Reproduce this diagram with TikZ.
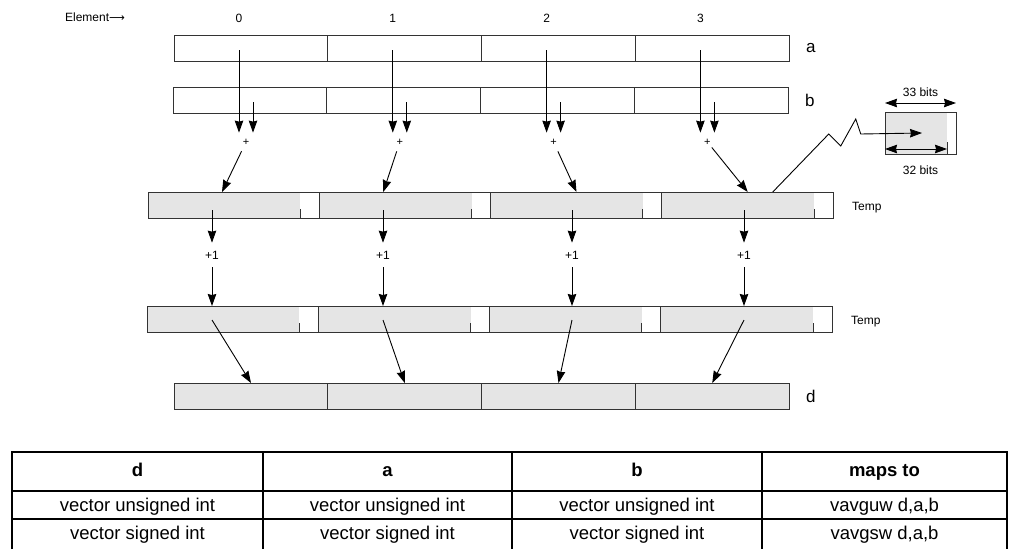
\documentclass[tikz,border=0pt]{standalone}
\usepackage{fontspec}
\setmainfont{Liberation Sans}
\newfontfamily\arrowfont{DejaVu Sans}
\usetikzlibrary{positioning, arrows.meta}

\begin{document}
\begin{tikzpicture}[x=1pt,y=-1pt]
		\tikzstyle{cell} = [draw=black!80, line width=1, inner sep=0, outer sep=0, minimum height=26, anchor=north west]
		\tikzstyle{vecbox} = [cell, minimum width=153.75]
		\tikzstyle{tempbox} = [cell, minimum width=171.25, path picture={\fill[black!10] (path picture bounding box.north west) rectangle ([xshift=-19pt]path picture bounding box.south east); \draw[line width=1] ([xshift=-19pt]path picture bounding box.south east) -- ++(0,9pt);}]
		\tikzstyle{bitbox} = [cell, minimum width=71, minimum height=42, path picture={\fill[black!10] (path picture bounding box.north west) rectangle ([xshift=-9pt]path picture bounding box.south east); \draw[line width=1] ([xshift=-9pt]path picture bounding box.south east) -- ++(0,12pt);}]
		\tikzstyle{arr} = [-{Stealth[length=12pt, width=8.5pt, inset=1pt]}, line width=0.9]
		\tikzstyle{dbl} = [{Stealth[length=12pt, width=8.5pt, inset=1pt]}-{Stealth[length=12pt, width=8.5pt, inset=1pt]}, line width=0.9]
		\tikzstyle{lbl} = [inner sep=1, font=\fontsize{12}{14}\selectfont]
		\tikzstyle{rowlbl} = [inner sep=1, font=\fontsize{17}{20}\selectfont]
		\tikzstyle{tbl} = [anchor=base, inner sep=0, font=\fontsize{18.5}{22}\selectfont]
		\tikzstyle{grid} = [line width=1.6]
		\useasboundingbox (0,0) rectangle (1009,549);
		
		\node [lbl] (elem) at (95,17) {Element{\arrowfont\fontsize{11}{12}\selectfont⟶}};
		\foreach \i/\ox/\qx in {0/74/212, 1/64/383, 2/86/572, 3/86/744} {
			\node [vecbox] (a\i) at ({174+153.75*\i},35) {};
			\node [vecbox] (b\i) at ({173+153.75*\i},87) {};
			\node [tempbox] (t\i) at ({148+171.25*\i},192) {};
			\node [tempbox] (u\i) at ({147+171.25*\i},306) {};
			\node [vecbox, fill=black!10] (d\i) at ({174+153.75*\i},383) {};
			\coordinate (sa\i) at ({239+153.8*\i},50);
			\coordinate (sb\i) at ({253+153.8*\i},102);
			\coordinate (st\i) at (\qx,210);
			\coordinate (su\i) at (\qx,320);
			\node [lbl] (n\i) at (sa\i |- 0,18) {\i};
			\node [lbl, inner ysep=6, font=\fontsize{11}{12}\selectfont] (p\i) at ({246+153.8*\i},142) {+};
			\node [lbl, inner ysep=8] (q\i) at (\qx,255) {+1};
			\draw [arr] (sa\i) -- (sa\i |- p\i.north);
			\draw [arr] (sb\i) -- (sb\i |- p\i.north);
			\draw [arr] (p\i) -- ([xshift=\ox]t\i.north west);
			\draw [arr] (st\i) -- (st\i |- q\i.north);
			\draw [arr] (q\i) -- (q\i |- u\i.north);
			\draw [arr] (su\i) -- ([xshift=77]d\i.north west);
		}
		\node [rowlbl, right=16pt of a3] (la) {a};
		\node [rowlbl, right=16pt of b3] (lb) {b};
		\node [rowlbl, right=16pt of d3] (ld) {d};
		\node [lbl, right=18pt of t3, yshift=-3pt] (lt) {Temp};
		\node [lbl, right=18pt of u3, yshift=-3pt] (lu) {Temp};
		
		% one 33 bit element
		\node [bitbox] (bx) at (885,112) {};
		\coordinate (zin) at (922,133);
		\draw [arr] ([xshift=111]t3.north west) -- ++(56,-58) -- ++(12,12) -- ++(15,-27) -- ++(5,15) -- (zin);
		\draw [dbl] ([yshift=9pt]bx.north west) -- ([yshift=9pt]bx.north east);
		\node [lbl] (b33) at ([yshift=20pt]bx.north) {33 bits};
		\draw [dbl] ([yshift=5pt]bx.south west) -- ([xshift=-9pt,yshift=5pt]bx.south east);
		\node [lbl] (b32) at ([yshift=-16pt]bx.south) {32 bits};
		
		% table
		\draw [grid] (12,549) -- (12,452) -- (1007,452) -- (1007,549);
		\draw [grid] (12,491) -- (1007,491);
		\draw [grid] (12,519) -- (1007,519);
		\foreach \x in {263,512,762}
			\draw [grid] (\x,452) -- (\x,549);
		\foreach \x/\h/\r/\s [count=\k] in {137.5/d/vector unsigned int/vector signed int, 387.5/a/vector unsigned int/vector signed int, 637/b/vector unsigned int/vector signed int, 884.5/maps to/{vavguw d,a,b}/{vavgsw d,a,b}} {
			\node [tbl, font=\fontsize{18.5}{22}\selectfont\bfseries] (h\k) at (\x,476) {\h};
			\node [tbl] (r\k) at (\x,511) {\r};
			\node [tbl] (s\k) at (\x,539) {\s};
		}
\end{tikzpicture}
\end{document}
